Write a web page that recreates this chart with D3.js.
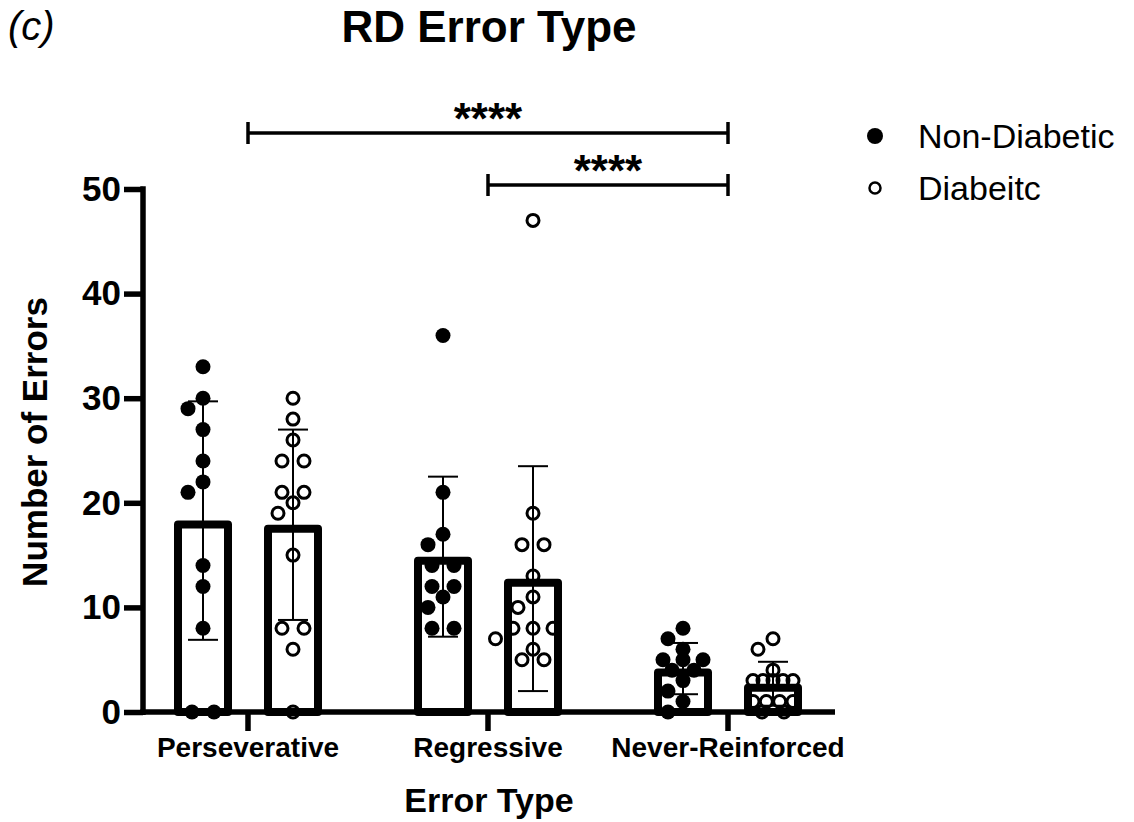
<!DOCTYPE html>
<html>
<head>
<meta charset="utf-8">
<script src="https://cdn.jsdelivr.net/npm/d3@7"></script>
<style>
  html, body { margin: 0; padding: 0; background: #fff; }
  svg { display: block; }
  text { font-family: "Liberation Sans", Arial, Helvetica, sans-serif; fill: #000; }
</style>
</head>
<body>
<svg id="chart" width="1134" height="822"></svg>
<script>
// ---- data ----
const categories = ["Perseverative", "Regressive", "Never-Reinforced"];
const groups = ["Non-Diabetic", "Diabeitc"];
const meanNonDiabetic = [18.3, 14.85, 4.15];
const sdNonDiabetic = [11.4, 7.65, 2.45];
const meanDiabetic = [17.9, 12.75, 2.7];
const sdDiabetic = [9.1, 10.75, 2.1];
const pointsNonDiabetic = [
  [33, 30, 29, 27, 24, 22, 21, 14, 12, 8, 0, 0],
  [36, 21, 17, 16, 14, 14, 12, 12, 11, 10, 8, 8],
  [8, 7, 6, 5, 5, 5, 4, 4, 3, 2, 1, 0]
];
const pointsDiabetic = [
  [30, 28, 26, 24, 24, 21, 21, 20, 19, 15, 8, 8, 6, 0],
  [47, 19, 16, 16, 13, 11, 10, 8, 8, 8, 7, 6, 5, 5],
  [7, 6, 4, 3, 3, 3, 3, 3, 1, 1, 1, 1, 0, 0]
];
const yTicks = [0, 10, 20, 30, 40, 50];
const comparisons = [
  { from: "Perseverative", to: "Never-Reinforced", label: "****" },
  { from: "Regressive", to: "Never-Reinforced", label: "****" }
];

// ---- layout ----
const svg = d3.select("#chart");
const axisX0 = 143, axisX1 = 835;
const x = d3.scaleBand().domain(categories).range([128, 848]).paddingInner(0).paddingOuter(0);
const xSub = d3.scalePoint().domain(groups).range([-45, 45]);
const y = d3.scaleLinear().domain([0, 50]).range([712, 189]);
const barW = 58, barStroke = 8;
const ptR = 7.5;

const series = [
  { name: groups[0], mean: meanNonDiabetic, sd: sdNonDiabetic, pts: pointsNonDiabetic, filled: true },
  { name: groups[1], mean: meanDiabetic, sd: sdDiabetic, pts: pointsDiabetic, filled: false }
];

// beeswarm-like placement
function swarm(values, cx) {
  const sorted = values.slice().sort((a, b) => b - a);
  const placed = [];
  const step = ptR;
  let i = 0;
  while (i < sorted.length) {
    let j = i;
    while (j < sorted.length && sorted[j] === sorted[i]) j++;
    const n = j - i;
    const py = y(sorted[i]);
    if (n > 1) {
      const sp = Math.min(22, 40 / (n - 1));
      for (let k = 0; k < n; k++) {
        placed.push({ v: sorted[i], x: cx + (k - (n - 1) / 2) * sp, y: py });
      }
    } else {
      const cands = [0];
      for (let k = 1; k < 12; k++) { cands.push(-k * step, k * step); }
      let chosen = 0;
      for (const c of cands) {
        const px = cx + c;
        const ok = placed.every(p => Math.hypot(p.x - px, p.y - py) >= 2 * ptR - 0.5);
        if (ok) { chosen = c; break; }
      }
      placed.push({ v: sorted[i], x: cx + chosen, y: py });
    }
    i = j;
  }
  return placed;
}

// points
series.forEach(s => {
  categories.forEach((cat, ci) => {
    const cx = x(cat) + x.bandwidth() / 2 + xSub(s.name);
    const pts = swarm(s.pts[ci], cx);
    svg.append("g").selectAll("circle").data(pts).join("circle")
      .attr("cx", d => d.x).attr("cy", d => d.y)
      .attr("r", s.filled ? ptR : ptR - 1.5)
      .attr("fill", s.filled ? "#000" : "none")
      .attr("stroke", "#000")
      .attr("stroke-width", s.filled ? 0 : 3);
  });
});

// bars
series.forEach(s => {
  svg.append("g").selectAll("rect").data(categories).join("rect")
    .attr("x", (d) => x(d) + x.bandwidth() / 2 + xSub(s.name) - barW / 2 + barStroke / 2)
    .attr("width", barW - barStroke)
    .attr("y", (d, i) => y(s.mean[i]) + barStroke / 2)
    .attr("height", (d, i) => y(0) - y(s.mean[i]) - barStroke / 2)
    .attr("fill", "none")
    .attr("stroke", "#000")
    .attr("stroke-width", barStroke)
    .attr("stroke-linejoin", "round");
});

// error bars
series.forEach(s => {
  const g = svg.append("g").attr("stroke", "#000").attr("stroke-width", 2);
  categories.forEach((cat, i) => {
    const cx = x(cat) + x.bandwidth() / 2 + xSub(s.name);
    const lo = Math.max(0, s.mean[i] - s.sd[i]), hi = s.mean[i] + s.sd[i];
    g.append("line").attr("x1", cx).attr("x2", cx).attr("y1", y(lo)).attr("y2", y(hi));
    g.append("line").attr("x1", cx - 15).attr("x2", cx + 15).attr("y1", y(hi)).attr("y2", y(hi));
    g.append("line").attr("x1", cx - 15).attr("x2", cx + 15).attr("y1", y(lo)).attr("y2", y(lo));
  });
});

// y axis
const yAxis = svg.append("g").attr("transform", `translate(${axisX0},0)`)
  .call(d3.axisLeft(y).tickValues(yTicks).tickSize(19).tickPadding(3).tickSizeOuter(0));
yAxis.select(".domain").remove();
yAxis.selectAll(".tick line").attr("stroke", "#000").attr("stroke-width", 5.5);
yAxis.selectAll(".tick text").attr("font-size", 35).attr("font-weight", "bold")
  .attr("font-family", '"Liberation Sans", Arial, sans-serif').attr("fill", "#000");
svg.append("line").attr("x1", axisX0).attr("x2", axisX0)
  .attr("y1", y(50) - 2.75).attr("y2", y(0) + 3)
  .attr("stroke", "#000").attr("stroke-width", 5.5);

// x axis
const xAxis = svg.append("g").attr("transform", `translate(0,${y(0)})`)
  .call(d3.axisBottom(x).tickSize(19).tickPadding(6).tickSizeOuter(0));
xAxis.select(".domain").remove();
xAxis.selectAll(".tick line").attr("stroke", "#000").attr("stroke-width", 5.5);
xAxis.selectAll(".tick text").attr("font-size", 28).attr("font-weight", "bold")
  .attr("font-family", '"Liberation Sans", Arial, sans-serif').attr("fill", "#000");
svg.append("line").attr("x1", axisX0 - 2.75).attr("x2", axisX1)
  .attr("y1", y(0)).attr("y2", y(0))
  .attr("stroke", "#000").attr("stroke-width", 5.5);

// significance brackets
const bracketY = [133, 185];
comparisons.forEach((c, i) => {
  const x1 = x(c.from) + x.bandwidth() / 2, x2 = x(c.to) + x.bandwidth() / 2;
  const by = bracketY[i];
  const g = svg.append("g").attr("stroke", "#000").attr("stroke-width", 3.5);
  g.append("line").attr("x1", x1).attr("x2", x2).attr("y1", by).attr("y2", by);
  g.append("line").attr("x1", x1).attr("x2", x1).attr("y1", by - 11).attr("y2", by + 11);
  g.append("line").attr("x1", x2).attr("x2", x2).attr("y1", by - 11).attr("y2", by + 11);
  svg.append("text").attr("x", (x1 + x2) / 2).attr("y", by + 1)
    .attr("text-anchor", "middle").attr("font-size", 44).attr("font-weight", "bold")
    .text(c.label);
});

// titles
svg.append("text").attr("x", 489).attr("y", 42).attr("text-anchor", "middle")
  .attr("font-size", 44).attr("font-weight", "bold").text("RD Error Type");
svg.append("text").attr("x", 8).attr("y", 40)
  .attr("font-size", 40).attr("font-style", "italic").text("(c)");
svg.append("text").attr("x", 489).attr("y", 812).attr("text-anchor", "middle")
  .attr("font-size", 34).attr("font-weight", "bold").text("Error Type");
svg.append("text").attr("transform", "translate(47,442) rotate(-90)")
  .attr("text-anchor", "middle").attr("font-size", 35).attr("font-weight", "bold")
  .text("Number of Errors");

// legend
const legend = svg.append("g");
series.forEach((s, i) => {
  const ly = 136 + i * 52;
  legend.append("circle").attr("cx", 875).attr("cy", ly)
    .attr("r", s.filled ? 8 : 5.5)
    .attr("fill", s.filled ? "#000" : "none")
    .attr("stroke", "#000").attr("stroke-width", s.filled ? 0 : 2.5);
  legend.append("text").attr("x", 918).attr("y", ly + 12)
    .attr("font-size", 34).text(s.name);
});
</script>
</body>
</html>
